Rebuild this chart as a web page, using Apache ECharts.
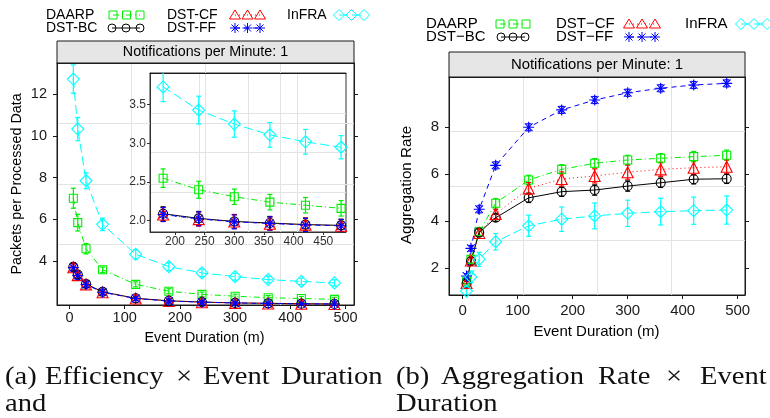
<!DOCTYPE html>
<html><head><meta charset="utf-8">
<script src="https://cdn.jsdelivr.net/npm/echarts@6/dist/echarts.min.js"></script>
<style>html,body{margin:0;padding:0;background:#fff}#c{width:770px;height:418px}</style>
</head><body><div id="c"></div>
<script>
// ---------- DATA ----------
const durations = [7, 15, 30, 60, 120, 180, 240, 300, 360, 420, 480];
const xTickValues = [0, 100, 200, 300, 400, 500];
const effYTicks = [4, 6, 8, 10, 12];
const insetXTicks = [200, 250, 300, 350, 400, 450];
const insetYTicks = [2.0, 2.5, 3.0, 3.5];
const aggYTicks = [2, 4, 6, 8];

// (a) Packets per Processed Data
const effDAARP   = [7.01, 5.84, 4.59, 3.58, 2.88, 2.55, 2.40, 2.31, 2.24, 2.20, 2.16];
const effDAARPe  = [0.48, 0.40, 0.25, 0.13, 0.12, 0.12, 0.11, 0.10, 0.10, 0.10, 0.10];
const effBC      = [3.72, 3.35, 2.90, 2.52, 2.21, 2.09, 2.03, 1.99, 1.97, 1.95, 1.94];
const effBCe     = [0.20, 0.18, 0.15, 0.12, 0.10, 0.09, 0.09, 0.09, 0.085, 0.085, 0.08];
const effCF      = [3.70, 3.32, 2.88, 2.50, 2.20, 2.08, 2.02, 1.99, 1.96, 1.95, 1.935];
const effCFe     = [0.20, 0.18, 0.15, 0.12, 0.10, 0.09, 0.09, 0.09, 0.085, 0.085, 0.08];
const effFF      = [3.68, 3.30, 2.87, 2.50, 2.20, 2.08, 2.025, 1.985, 1.965, 1.945, 1.935];
const effFFe     = [0.20, 0.18, 0.15, 0.12, 0.10, 0.09, 0.09, 0.09, 0.085, 0.085, 0.08];
const effInFRA   = [12.73, 10.33, 7.85, 5.76, 4.32, 3.73, 3.43, 3.25, 3.11, 3.02, 2.95];
const effInFRAe  = [0.68, 0.56, 0.38, 0.30, 0.22, 0.19, 0.18, 0.17, 0.16, 0.16, 0.15];

// (b) Aggregation Rate
const aggDAARP   = [1.45, 2.38, 3.56, 4.77, 5.76, 6.21, 6.47, 6.61, 6.68, 6.75, 6.81];
const aggDAARPe  = [0.10, 0.15, 0.15, 0.20, 0.20, 0.20, 0.20, 0.20, 0.20, 0.22, 0.22];
const aggBC      = [1.35, 2.30, 3.52, 4.15, 5.00, 5.26, 5.33, 5.50, 5.64, 5.79, 5.81];
const aggBCe     = [0.10, 0.15, 0.15, 0.15, 0.20, 0.20, 0.22, 0.22, 0.20, 0.20, 0.20];
const aggCF      = [1.38, 2.33, 3.50, 4.31, 5.40, 5.80, 5.93, 6.09, 6.21, 6.28, 6.32];
const aggCFe     = [0.10, 0.15, 0.15, 0.20, 0.25, 0.30, 0.30, 0.30, 0.30, 0.30, 0.30];
const aggFF      = [1.67, 2.85, 4.51, 6.38, 8.00, 8.74, 9.16, 9.47, 9.66, 9.80, 9.87];
const aggFFe     = [0.10, 0.12, 0.15, 0.15, 0.15, 0.15, 0.15, 0.15, 0.15, 0.15, 0.15];
const aggInFRA   = [1.03, 1.63, 2.38, 3.13, 3.81, 4.09, 4.23, 4.34, 4.41, 4.45, 4.48];
const aggInFRAe  = [0.20, 0.25, 0.30, 0.35, 0.45, 0.52, 0.55, 0.56, 0.57, 0.58, 0.60];

// ---------- STYLES ----------
const ST = {
  DAARP:  {color:'#00ee00', symbol:'rect', size:8, dash:[6,3,1,3], key:'square'},
  BC:     {color:'#000000', symbol:'circle', size:9, dash:'solid', key:'circle'},
  CF:     {color:'#ff0000', symbol:'triangle', size:11, dash:[1,3], key:'triangle'},
  FF:     {color:'#0000ff', symbol:'path://M5 0L5 10M0 5L10 5M1.5 1.5L8.5 8.5M1.5 8.5L8.5 1.5', size:11, dash:[5,4], key:'asterisk'},
  InFRA:  {color:'#00ffff', symbol:'diamond', size:12, dash:[9,4], key:'diamond'}
};

function makeSeries(key, xi, yi, vals, errs, minX) {
  const s = ST[key];
  const data = durations.map((d, i) => [d, vals[i], errs[i]]).filter(p => p[0] >= minX);
  return [
    {type:'custom', xAxisIndex:xi, yAxisIndex:yi, data: data, clip:true, z:3,
     renderItem: function(params, api) {
       const x = api.value(0), y = api.value(1), e = api.value(2);
       const a = api.coord([x, y + e]), b = api.coord([x, y - e]);
       const st = {stroke:s.color, lineWidth:1.2};
       return {type:'group', children:[
         {type:'line', shape:{x1:a[0], y1:a[1], x2:b[0], y2:b[1]}, style:st},
         {type:'line', shape:{x1:a[0]-2.5, y1:a[1], x2:a[0]+2.5, y2:a[1]}, style:st},
         {type:'line', shape:{x1:b[0]-2.5, y1:b[1], x2:b[0]+2.5, y2:b[1]}, style:st}
       ]};
     }},
    {type:'line', xAxisIndex:xi, yAxisIndex:yi, data: data.map(p => [p[0], p[1]]), clip:true, z:4,
     symbol:s.symbol, symbolSize:s.size, showAllSymbol:true,
     lineStyle:{color:s.color, width:1, type:s.dash},
     itemStyle:{color:'rgba(0,0,0,0)', borderColor:s.color, borderWidth:1.1},
     emphasis:{disabled:true}}
  ];
}

// ---------- AXES ----------
const black = '#1a1a1a';
function mainX(gi, min, max, fs, margin) {
  return {type:'value', gridIndex:gi, position:'bottom', min:min, max:max,
    axisLine:{show:true, onZero:false, lineStyle:{color:black}},
    axisTick:{show:true, customValues:xTickValues, length:4, lineStyle:{color:black}},
    axisLabel:{show:true, customValues:xTickValues, fontSize:fs, color:black, margin:margin, fontFamily:'Liberation Sans'},
    splitLine:{show:false}};
}
function mainY(gi, min, max, ticks, fs, margin, fmt) {
  return {type:'value', gridIndex:gi, position:'left', min:min, max:max,
    axisLine:{show:true, onZero:false, lineStyle:{color:black}},
    axisTick:{show:true, customValues:ticks, length:4, lineStyle:{color:black}},
    axisLabel:{show:true, customValues:ticks, fontSize:fs, color:black, margin:margin, fontFamily:'Liberation Sans', formatter:fmt},
    splitLine:{show:false}};
}
function rightTicks(gi, min, max, ticks) {
  return {type:'value', gridIndex:gi, position:'right', min:min, max:max,
    axisLine:{show:true, onZero:false, lineStyle:{color:black}},
    axisTick:{show:true, customValues:ticks, length:4, lineStyle:{color:black}},
    axisLabel:{show:false}, splitLine:{show:false}};
}
function gridLinesX(gi) {
  return {type:'value', gridIndex:gi, position:'top', min:0, max:4, interval:1,
    axisLine:{show:true, onZero:false, lineStyle:{color:black}}, axisTick:{show:false}, axisLabel:{show:false},
    splitLine:{show:true, showMinLine:false, showMaxLine:false, lineStyle:{color:'#e3e3e3', width:1}}};
}
function gridLinesY(gi) {
  return {type:'value', gridIndex:gi, position:'left', min:0, max:4, interval:1,
    axisLine:{show:false}, axisTick:{show:false}, axisLabel:{show:false},
    splitLine:{show:true, showMinLine:false, showMaxLine:false, lineStyle:{color:'#e3e3e3', width:1}}};
}

const grids = [
  {left:57, top:63, width:297, height:242, show:true, borderColor:black, borderWidth:1, backgroundColor:'rgba(0,0,0,0)'},
  {left:150, top:73, width:196, height:159, show:true, borderColor:'#333', borderWidth:1, backgroundColor:'rgba(0,0,0,0)'},
  {left:449, top:77, width:296, height:218, show:true, borderColor:black, borderWidth:1, backgroundColor:'rgba(0,0,0,0)'}
];

const insetX = {type:'value', gridIndex:1, position:'bottom', min:157.9, max:488.3,
  axisLine:{show:true, onZero:false, lineStyle:{color:'#333'}},
  axisTick:{show:true, customValues:insetXTicks, length:3, lineStyle:{color:'#333'}},
  axisLabel:{show:true, customValues:insetXTicks, fontSize:12, color:'#333', margin:4, fontFamily:'Liberation Sans'},
  splitLine:{show:false}};
const insetY = {type:'value', gridIndex:1, position:'left', min:1.854, max:3.910,
  axisLine:{show:true, onZero:false, lineStyle:{color:'#333'}},
  axisTick:{show:true, customValues:insetYTicks, length:3, lineStyle:{color:'#333'}},
  axisLabel:{show:true, customValues:insetYTicks, fontSize:12, color:'#333', margin:4, fontFamily:'Liberation Sans', formatter:v => v.toFixed(1)},
  splitLine:{show:false}};

const xAxes = [
  mainX(0, -22.6, 515.4, 14.5, 5),   // 0
  gridLinesX(0),                      // 1
  insetX,                             // 2
  gridLinesX(1),                      // 3
  mainX(2, -24.9, 513.3, 15, 8),      // 4
  gridLinesX(2)                       // 5
];
const yAxes = [
  mainY(0, 1.889, 13.50, effYTicks, 14.5, 10),   // 0
  rightTicks(0, 1.889, 13.50, effYTicks),         // 1
  gridLinesY(0),                                  // 2
  insetY,                                         // 3
  gridLinesY(1),                                  // 4
  mainY(2, 0.864, 10.14, aggYTicks, 15, 10),      // 5
  rightTicks(2, 0.864, 10.14, aggYTicks),         // 6
  gridLinesY(2)                                   // 7
];

let series = [];
const effSets = [['DAARP', effDAARP, effDAARPe], ['BC', effBC, effBCe], ['CF', effCF, effCFe], ['FF', effFF, effFFe], ['InFRA', effInFRA, effInFRAe]];
const aggSets = [['DAARP', aggDAARP, aggDAARPe], ['BC', aggBC, aggBCe], ['CF', aggCF, aggCFe], ['FF', aggFF, aggFFe], ['InFRA', aggInFRA, aggInFRAe]];
effSets.forEach(s => { series = series.concat(makeSeries(s[0], 0, 0, s[1], s[2], 0)); });
effSets.forEach(s => { series = series.concat(makeSeries(s[0], 2, 3, s[1], s[2], 180)); });
aggSets.forEach(s => { series = series.concat(makeSeries(s[0], 4, 5, s[1], s[2], 0)); });

// ---------- GRAPHIC (legends, strips, titles, captions) ----------
function keySym(kind, cx, cy, color) {
  const st = {fill:'none', stroke:color, lineWidth:1};
  if (kind === 'square') return {type:'rect', shape:{x:cx-4, y:cy-4, width:8, height:8}, style:st};
  if (kind === 'circle') return {type:'circle', shape:{cx:cx, cy:cy, r:4}, style:st};
  if (kind === 'triangle') return {type:'polygon', shape:{points:[[cx,cy-5],[cx+5.5,cy+4],[cx-5.5,cy+4]]}, style:st};
  if (kind === 'diamond') return {type:'polygon', shape:{points:[[cx,cy-5.5],[cx+5.5,cy],[cx,cy+5.5],[cx-5.5,cy]]}, style:st};
  return {type:'group', children:[
    {type:'line', shape:{x1:cx, y1:cy-5, x2:cx, y2:cy+5}, style:st},
    {type:'line', shape:{x1:cx-5, y1:cy, x2:cx+5, y2:cy}, style:st},
    {type:'line', shape:{x1:cx-3.5, y1:cy-3.5, x2:cx+3.5, y2:cy+3.5}, style:st},
    {type:'line', shape:{x1:cx-3.5, y1:cy+3.5, x2:cx+3.5, y2:cy-3.5}, style:st}]};
}
const graphics = [];
function legendEntry(key, label, tx, ty, kxs, fs) {
  const s = ST[key];
  graphics.push({type:'text', x:tx, y:ty, style:{text:label, font:fs + 'px "Liberation Sans"', fill:'#000', textAlign:'left', textVerticalAlign:'middle'}});
  graphics.push({type:'line', shape:{x1:kxs[0], y1:ty, x2:kxs[2], y2:ty}, style:{stroke:s.color, lineWidth:1, lineDash: Array.isArray(s.dash) ? s.dash : null}});
  kxs.forEach(kx => graphics.push(keySym(s.key, kx, ty, s.color)));
}
legendEntry('DAARP', 'DAARP', 46, 15, [113,126.5,140], 14);
legendEntry('BC', 'DST-BC', 46, 28, [112,126,140], 14);
legendEntry('CF', 'DST-CF', 167, 15, [235,247.5,260], 14);
legendEntry('FF', 'DST-FF', 167, 28, [235,247.5,260], 14);
legendEntry('InFRA', 'InFRA', 287, 15, [339,351.5,364], 14);

legendEntry('DAARP', 'DAARP', 426, 24, [500,513,526], 15);
legendEntry('BC', 'DST\u2212BC', 426, 37, [501,513,525], 15);
legendEntry('CF', 'DST\u2212CF', 556, 24, [629,642,655], 15);
legendEntry('FF', 'DST\u2212FF', 556, 37, [629,642,655], 15);
legendEntry('InFRA', 'InFRA', 685, 24, [741,754,767], 15);

// strips
graphics.push({type:'rect', shape:{x:57, y:41, width:297, height:22}, style:{fill:'#e6e6e6', stroke:black, lineWidth:1}});
graphics.push({type:'text', x:205.5, y:52.5, style:{text:'Notifications per Minute: 1', font:'14.3px "Liberation Sans"', fill:'#000', textAlign:'center', textVerticalAlign:'middle'}});
graphics.push({type:'rect', shape:{x:449, y:52, width:296, height:25}, style:{fill:'#e6e6e6', stroke:black, lineWidth:1}});
graphics.push({type:'text', x:597, y:64.5, style:{text:'Notifications per Minute: 1', font:'14.9px "Liberation Sans"', fill:'#000', textAlign:'center', textVerticalAlign:'middle'}});

// axis titles
graphics.push({type:'text', x:17, y:184, rotation:Math.PI/2, style:{text:'Packets per Processed Data', font:'14.3px "Liberation Sans"', fill:'#000', textAlign:'center', textVerticalAlign:'middle'}});
graphics.push({type:'text', x:204.5, y:338.5, style:{text:'Event Duration (m)', font:'14.3px "Liberation Sans"', fill:'#000', textAlign:'center', textVerticalAlign:'middle'}});
graphics.push({type:'text', x:407, y:185, rotation:Math.PI/2, style:{text:'Aggregation Rate', font:'15.2px "Liberation Sans"', fill:'#000', textAlign:'center', textVerticalAlign:'middle'}});
graphics.push({type:'text', x:596.5, y:332, style:{text:'Event Duration (m)', font:'15px "Liberation Sans"', fill:'#000', textAlign:'center', textVerticalAlign:'middle'}});

// captions
function cap(t, x, y) {
  graphics.push({type:'text', x:x, y:y, scaleX:1.1, style:{text:t, font:'26px "Liberation Serif"', fill:'#111', textAlign:'left', textVerticalAlign:'middle'}});
}
cap('(a)', 5, 377); cap('Efficiency', 45, 377); cap('\u00d7', 176, 377); cap('Event', 203, 377); cap('Duration', 281, 377);
cap('(b)', 396, 377); cap('Aggregation', 441, 377); cap('Rate', 598, 377); cap('\u00d7', 666, 377); cap('Event', 700, 377);
cap('and', 5, 404); cap('Duration', 396, 404);

const chart = echarts.init(document.getElementById('c'), null, {renderer:'canvas'});
chart.setOption({
  animation:false,
  backgroundColor:'#ffffff',
  textStyle:{fontFamily:'Liberation Sans'},
  grid: grids,
  xAxis: xAxes,
  yAxis: yAxes,
  series: series,
  graphic: {elements: graphics}
});
</script></body></html>
